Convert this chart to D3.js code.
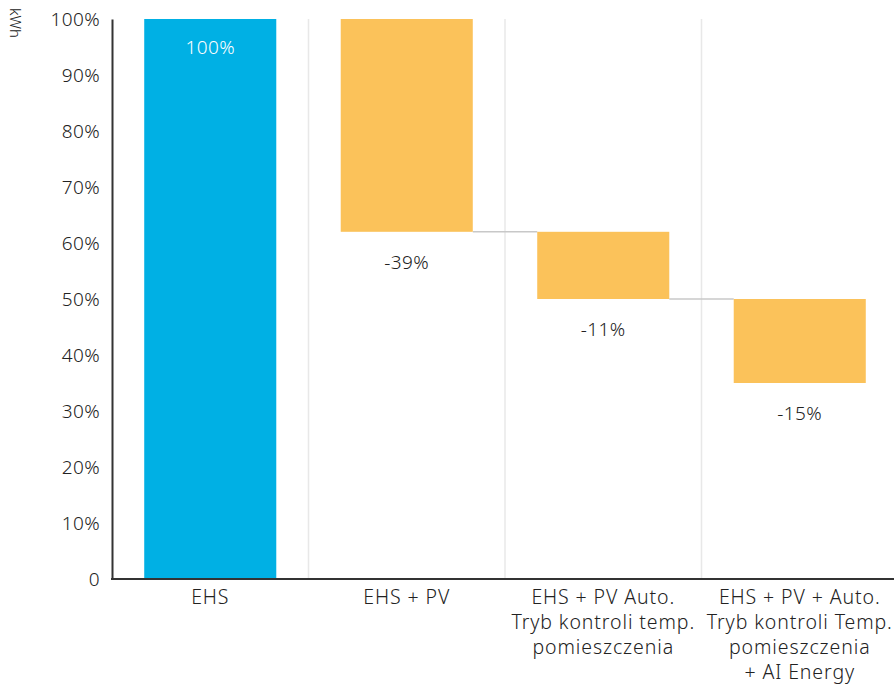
<!DOCTYPE html>
<html><head><meta charset="utf-8">
<script src="https://cdn.jsdelivr.net/npm/d3@7"></script>
<style>body{margin:0;background:#fff}svg{display:block}text{font-family:"Noto Sans",sans-serif;font-weight:300;fill:#222}</style>
</head><body><svg id="c" width="894" height="684"></svg>
<script>
const categories = [["EHS"],["EHS + PV"],["EHS + PV Auto.","Tryb kontroli temp.","pomieszczenia"],["EHS + PV + Auto.","Tryb kontroli Temp.","pomieszczenia","+ AI Energy"]];
const startValues = [0, 100, 62, 50];
const endValues = [100, 62, 50, 35];
const valueLabels = ["100%","-39%","-11%","-15%"];
const yTicks = [0,10,20,30,40,50,60,70,80,90,100];
const colors = ["#00b0e4","#fbc25a","#fbc25a","#fbc25a"];

const svg = d3.select("#c");
const x = d3.scaleBand().domain(d3.range(categories.length)).range([112, 898]).padding(0);
const y = d3.scaleLinear().domain([0,100]).range([579, 19]);
const barW = x.bandwidth()*0.672;
const bx = i => x(i) + (x.bandwidth()-barW)/2;

// vertical grid lines
svg.append("g").selectAll("line").data(d3.range(1,categories.length)).join("line")
  .attr("x1", i=>x(i)).attr("x2", i=>x(i)).attr("y1", y(100)).attr("y2", y(0))
  .attr("stroke","#e8e8e8").attr("stroke-width",1.5);

// connectors
svg.append("g").selectAll("line").data(d3.range(1,categories.length-1)).join("line")
  .attr("x1", i=>bx(i)+barW).attr("x2", i=>bx(i+1)).attr("y1", i=>y(endValues[i])).attr("y2", i=>y(endValues[i]))
  .attr("stroke","#c8c8c8").attr("stroke-width",1.5);

// bars
svg.append("g").selectAll("rect").data(d3.range(categories.length)).join("rect")
  .attr("x", bx).attr("width", barW)
  .attr("y", i=>y(Math.max(startValues[i],endValues[i])))
  .attr("height", i=>Math.abs(y(startValues[i])-y(endValues[i])))
  .attr("fill", i=>colors[i]);

// value labels
svg.append("g").selectAll("text").data(d3.range(categories.length)).join("text")
  .attr("x", i=>x(i)+x.bandwidth()/2)
  .attr("y", i=> i===0 ? y(100)+35 : y(endValues[i])+37)
  .attr("text-anchor","middle").attr("font-size",19).attr("letter-spacing",0.4)
  .style("fill", i=> i===0 ? "#fff" : "#222")
  .text(i=>valueLabels[i]);

// y axis
const yAxis = d3.axisLeft(y).tickValues(yTicks).tickSize(0).tickPadding(12)
  .tickFormat(d=> d===0 ? "0" : d+"%");
const gy = svg.append("g").attr("transform","translate(112,0)").call(yAxis);
gy.select(".domain").attr("stroke","#333").attr("stroke-width",2);
gy.selectAll("text").attr("font-size",19).attr("letter-spacing",0.4).style("font-family","Noto Sans").style("font-weight",300).style("fill","#222");

// x axis line
svg.append("line").attr("x1",111).attr("x2",894).attr("y1",y(0)).attr("y2",y(0)).attr("stroke","#333").attr("stroke-width",2);

// category labels (one text per line)
const lines = categories.flatMap((ls,i)=>ls.map((t,j)=>({t,i,j})));
svg.append("g").selectAll("text").data(lines).join("text")
  .attr("x", d=>x(d.i)+x.bandwidth()/2).attr("y", d=>604 + d.j*25)
  .attr("text-anchor","middle").attr("font-size",19.5).attr("letter-spacing",0.9)
  .text(d=>d.t);

// unit label
svg.append("text").attr("transform","translate(10,8) rotate(90)").attr("font-size",15).text("kWh");
</script></body></html>
